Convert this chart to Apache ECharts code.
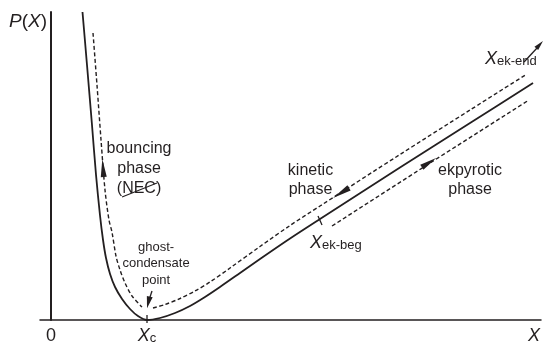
<!DOCTYPE html>
<html><head><meta charset="utf-8">
<script src="https://cdn.jsdelivr.net/npm/echarts@6/dist/echarts.min.js"></script>
<style>html,body{margin:0;padding:0;background:#fff}#c{width:544px;height:346px}</style>
</head><body><div id="c"></div>
<script>
// ---- Data (schematic values) ----
// Solid curve P(X)
const solidX = [0.328, 0.375, 0.427, 0.469, 0.510, 0.542, 0.573, 0.615, 0.667, 0.740, 0.823, 0.906, 1.000,
                1.135, 1.292, 1.448, 1.604, 1.760, 1.969, 2.177, 2.490, 2.802, 3.635, 4.365, 5.021];
const solidY = [3.08, 2.55, 1.95, 1.45, 1.05, 0.80, 0.62, 0.46, 0.33, 0.21, 0.11, 0.04, 0.00,
                0.02, 0.07, 0.14, 0.23, 0.33, 0.47, 0.61, 0.815, 1.01, 1.525, 1.97, 2.37];
// Dashed trajectory: bouncing branch
const bounceX = [0.4375, 0.479, 0.521, 0.5625, 0.604, 0.635, 0.677, 0.719, 0.771, 0.844, 0.948];
const bounceY = [2.87, 2.35, 1.80, 1.30, 1.00, 0.88, 0.64, 0.50, 0.37, 0.24, 0.13];
// Dashed trajectory: kinetic branch
const kineticX = [1.0625, 1.1875, 1.344, 1.5, 1.656, 1.865, 2.177, 2.490, 2.802, 3.635, 4.365, 4.958];
const kineticY = [0.12, 0.155, 0.215, 0.29, 0.38, 0.52, 0.735, 0.945, 1.14, 1.655, 2.10, 2.46];
// Dashed trajectory: ekpyrotic branch
const ekpyX = [2.927, 3.948, 4.979];
const ekpyY = [0.94, 1.57, 2.20];
// Axis tick labels
const tickValues = [0, 1, 5.03];
const tickLabels = ['{n|0}', '{x|X}{s|c}', '{x|X}'];
const yAxisName = '{x|P}{n|(}{x|X}{n|)}';
// Annotation texts
const annotTexts = ['bouncing\nphase\n(NEC)', 'kinetic\nphase', 'ekpyrotic\nphase',
                    'ghost-\ncondensate\npoint', '{x|X}{s|ek-beg}', '{x|X}{s|ek-end}'];
const annotX = [0.917, 2.703, 4.365, 1.094, 2.698, 4.521];
const annotY = [1.515, 1.395, 1.395, 0.565, 0.78, 2.62];
// Arrowheads (direction markers) on the trajectory
const headX = [0.542, 3.021, 3.9375, 1.0146, 5.09];
const headY = [1.52, 1.27, 1.574, 0.175, 2.753];
const headRot = [4.6, 122.5, -57.5, 166.8, -42.1];
// Short segments: arrow shafts, tick marks, NEC strike
const segments = [
  [[1.052, 0.29], [1.021, 0.20]],   // ghost-condensate arrow shaft
  [[4.927, 2.58], [5.063, 2.72]],   // X_ek-end arrow shaft
  [[1.0, 0.05], [1.0, -0.03]],      // X_c tick
  [[2.781, 1.04], [2.823, 0.95]],   // X_ek-beg tick
  [[0.740, 1.23], [1.104, 1.37]]    // NEC strike-through
];

// ---- Chart ----
const INK = '#231f20';
const FONT = 'Liberation Sans, Arial, Helvetica, sans-serif';
const zip = (a, b) => a.map((v, i) => [v, b[i]]);
const richXS = {
  x: {fontStyle: 'italic', fontSize: 18, lineHeight: 20, verticalAlign: 'bottom', color: INK, fontFamily: FONT},
  s: {fontSize: 13, lineHeight: 12, verticalAlign: 'bottom', color: INK, fontFamily: FONT},
  n: {fontSize: 18, lineHeight: 20, verticalAlign: 'bottom', color: INK, fontFamily: FONT}
};
const annotStyles = [
  {fontSize: 16, lineHeight: 20},
  {fontSize: 16, lineHeight: 19},
  {fontSize: 16, lineHeight: 19},
  {fontSize: 13, lineHeight: 16.5},
  {position: 'right'},
  {position: 'right'}
];
const headSizes = [[6, 18], [6, 19], [6, 17], [6, 12], [5, 10]];

const chart = echarts.init(document.getElementById('c'), null, {renderer: 'canvas'});
const series = [
  {type: 'line', data: zip(solidX, solidY), showSymbol: false, smooth: 0.3, clip: false,
   lineStyle: {color: INK, width: 1.8}, z: 3},
  {type: 'line', data: zip(bounceX, bounceY), showSymbol: false, smooth: 0.3, clip: false,
   lineStyle: {color: INK, width: 1.4, type: [4, 2.5]}},
  {type: 'line', data: zip(kineticX, kineticY), showSymbol: false, smooth: 0.3, clip: false,
   lineStyle: {color: INK, width: 1.4, type: [4, 2.5]}},
  {type: 'line', data: zip(ekpyX, ekpyY), showSymbol: false, clip: false,
   lineStyle: {color: INK, width: 1.4, type: [4, 2.5]}},
  {type: 'scatter', clip: false, symbolSize: 0, silent: true, z: 5,
   itemStyle: {opacity: 1},
   data: annotTexts.map((t, i) => {
     const st = annotStyles[i];
     const isRich = !!st.position;
     return {
       value: [annotX[i], annotY[i]],
       label: isRich ? {show: true, position: 'right', distance: 0, formatter: t, rich: richXS}
                     : {show: true, position: 'inside', formatter: t, fontSize: st.fontSize,
                        lineHeight: st.lineHeight, color: INK, fontFamily: FONT, align: 'center'}
     };
   })},
  {type: 'scatter', clip: false, symbol: 'triangle', z: 6,
   itemStyle: {color: INK, opacity: 1},
   data: headX.map((x, i) => ({value: [x, headY[i]], symbolSize: headSizes[i], symbolRotate: headRot[i]}))}
];
segments.forEach((s, i) => series.push({
  type: 'line', data: s, showSymbol: false, clip: false, z: 4,
  lineStyle: {color: INK, width: i === 4 ? 1.1 : 1.3}
}));

chart.setOption({
  animation: false,
  backgroundColor: '#fff',
  grid: {left: 40, right: 3, top: 12, bottom: 26, containLabel: false},
  xAxis: {
    type: 'value', min: -0.1146, max: 5.104,
    axisLine: {show: true, lineStyle: {color: INK, width: 1.5}},
    axisTick: {show: false},
    splitLine: {show: false},
    axisLabel: {show: true, customValues: tickValues, margin: 5, showMinLabel: true, showMaxLabel: true,
      formatter: v => tickLabels[tickValues.indexOf(v)] || '', rich: richXS}
  },
  yAxis: {
    type: 'value', min: 0, max: 3.08,
    axisLine: {show: true, onZero: true, lineStyle: {color: INK, width: 2}},
    axisTick: {show: false}, axisLabel: {show: false}, splitLine: {show: false},
    name: yAxisName, nameLocation: 'end', nameGap: 0,
    nameTextStyle: {align: 'right', verticalAlign: 'top', padding: [0, 4, 0, 0],
      rich: {x: {fontStyle: 'italic', fontSize: 19, lineHeight: 20, color: INK, fontFamily: FONT},
             n: {fontSize: 19, lineHeight: 20, color: INK, fontFamily: FONT}}}
  },
  series: series
});
</script></body></html>
